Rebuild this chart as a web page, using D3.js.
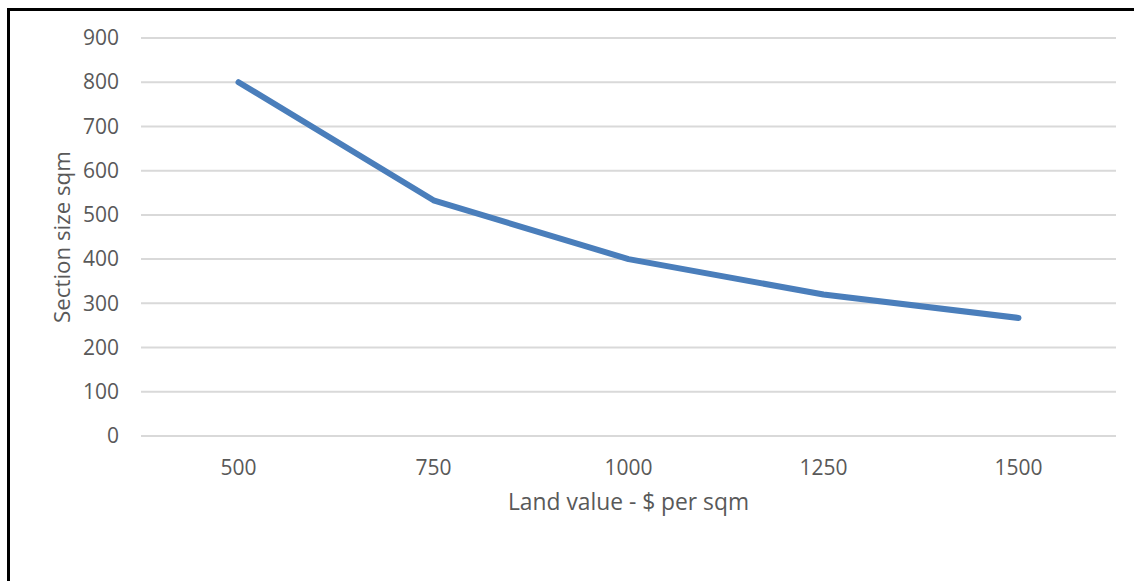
<!DOCTYPE html>
<html><head><meta charset="utf-8">
<script src="https://cdn.jsdelivr.net/npm/d3@7"></script>
<style>
html,body{margin:0;padding:0;background:#fff;}
svg{display:block;}
text{font-family:"Open Sans",sans-serif;fill:#595959;}
</style></head>
<body>
<svg id="chart" width="1134" height="581"></svg>
<script>
const categories = ["500", "750", "1000", "1250", "1500"];
const sectionSize = [800, 533, 400, 320, 267];
const yTicks = [0, 100, 200, 300, 400, 500, 600, 700, 800, 900];
const xTitle = "Land value - $ per sqm";
const yTitle = "Section size sqm";

const svg = d3.select("#chart");
const W = 1134, H = 581;
const m = {left: 141, right: 1116, top: 38, bottom: 436};

// outer border (only top and left visible in the reference)
svg.append("rect").attr("x", 8.5).attr("y", 9.5).attr("width", W + 20).attr("height", H + 20)
  .attr("fill", "none").attr("stroke", "#000").attr("stroke-width", 3);

const x = d3.scaleBand().domain(categories).range([m.left, m.right]);
const y = d3.scaleLinear().domain([0, 900]).range([m.bottom, m.top]);

// gridlines
svg.append("g").selectAll("line").data(yTicks).join("line")
  .attr("x1", m.left).attr("x2", m.right)
  .attr("y1", d => y(d)).attr("y2", d => y(d))
  .attr("stroke", "#d9d9d9").attr("stroke-width", 2);

// y axis
const yAxis = svg.append("g").attr("transform", `translate(${m.left},0)`)
  .call(d3.axisLeft(y).tickValues(yTicks).tickSize(0).tickPadding(22));
yAxis.select(".domain").remove();
yAxis.selectAll("text").attr("font-size", 21).attr("font-family", "Open Sans").attr("fill", "#595959");

// x axis
const xAxis = svg.append("g").attr("transform", `translate(0,${m.bottom})`)
  .call(d3.axisBottom(x).tickSize(0).tickPadding(24));
xAxis.select(".domain").remove();
xAxis.selectAll("text").attr("font-size", 21).attr("font-family", "Open Sans").attr("fill", "#595959");

// line
const line = d3.line().x((d, i) => x(categories[i]) + x.bandwidth() / 2).y(d => y(d));
svg.append("path").datum(sectionSize).attr("d", line)
  .attr("fill", "none").attr("stroke", "#4a7ebb").attr("stroke-width", 6)
  .attr("stroke-linejoin", "round").attr("stroke-linecap", "round");

// titles
svg.append("text").attr("x", (m.left + m.right) / 2).attr("y", 510)
  .attr("text-anchor", "middle").attr("font-size", 22.8).text(xTitle);
svg.append("text").attr("transform", `translate(70,237) rotate(-90)`)
  .attr("text-anchor", "middle").attr("font-size", 22.3).text(yTitle);
</script>
</body></html>
